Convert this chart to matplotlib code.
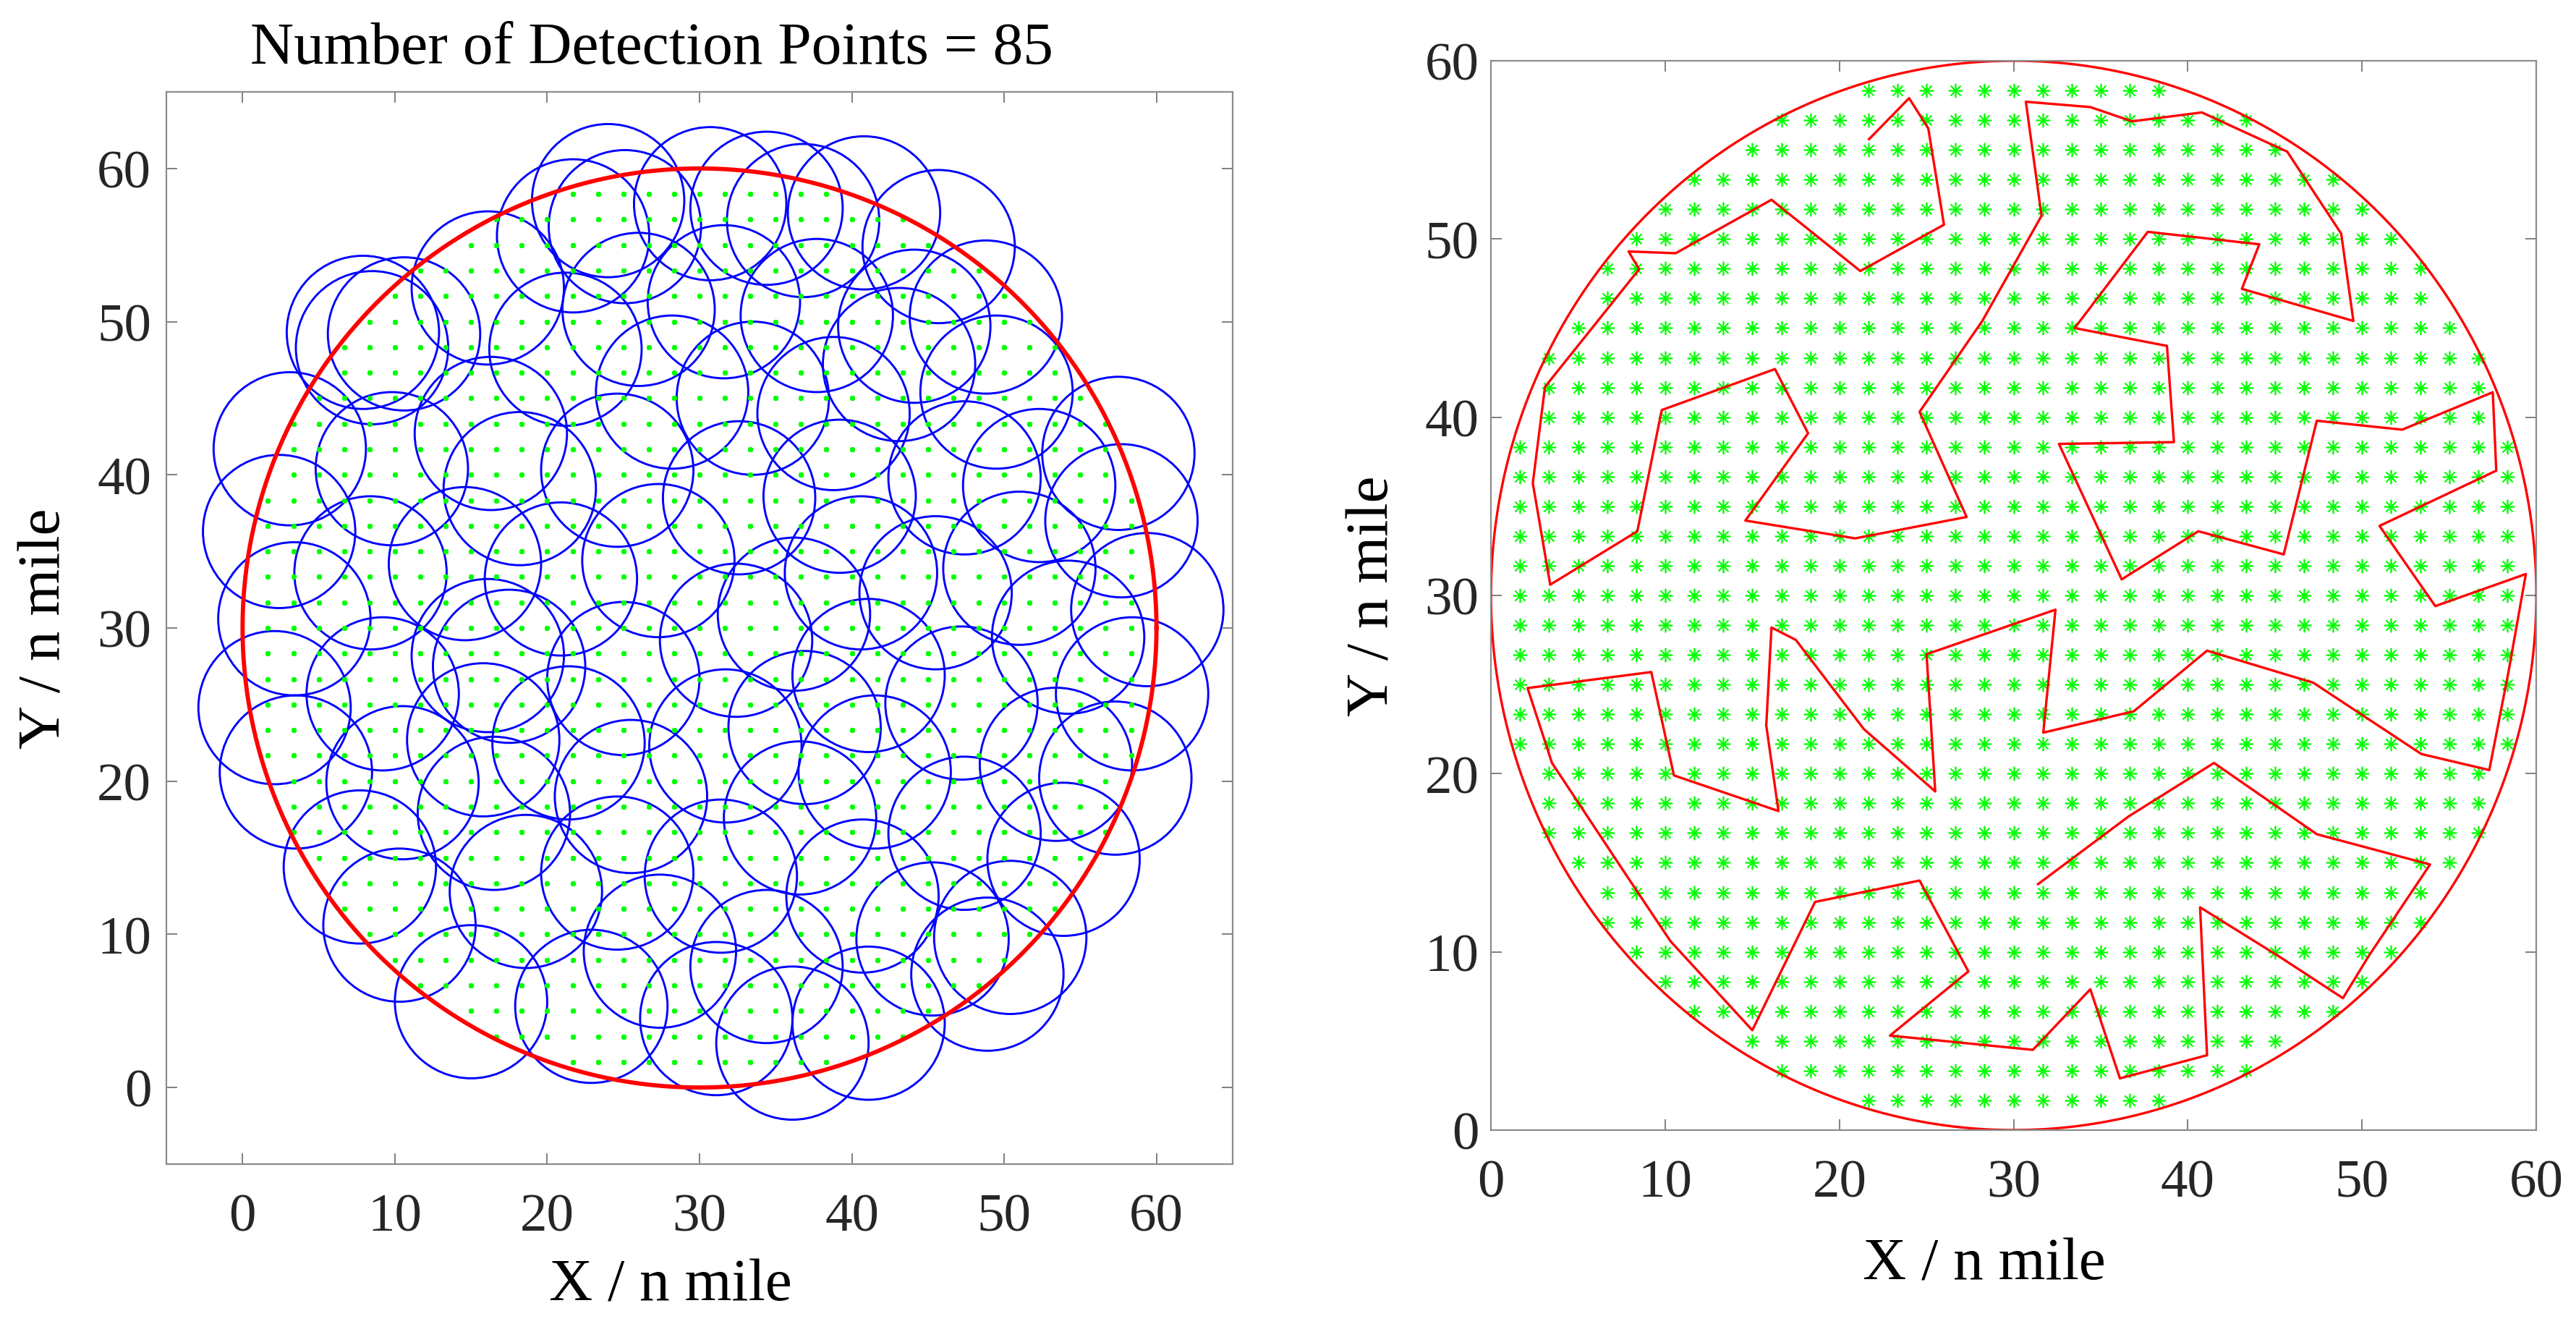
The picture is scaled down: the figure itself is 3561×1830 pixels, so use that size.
import numpy as np
import matplotlib
matplotlib.use('Agg')
import matplotlib.pyplot as plt
from matplotlib.patches import Circle

plt.rcParams['font.family'] = ['Liberation Serif', 'DejaVu Serif']

# detection points, in the order the search path visits them
pts_x = [21.7, 24.0, 25.1, 26.0, 21.2, 16.1, 10.6, 7.9, 8.5, 3.1,
         2.4, 3.4, 8.4, 9.8, 16.3, 18.2, 14.6, 20.9, 27.3, 24.6,
         28.2, 31.6, 30.7, 34.4, 36.8, 40.8, 45.7, 48.8, 49.5, 43.1,
         44.1, 37.7, 33.5, 38.8, 39.2, 32.6, 36.2, 40.6, 45.5, 47.4,
         52.3, 57.5, 57.7, 51.0, 54.2, 59.4, 58.4, 57.3, 53.4, 47.2,
         41.1, 36.9, 31.7, 32.4, 25.0, 25.5, 21.4, 17.5, 16.1, 15.8,
         16.5, 10.5, 9.2, 2.1, 3.5, 7.7, 10.3, 15.0, 18.6, 24.6,
         27.4, 22.9, 31.1, 34.4, 36.1, 41.1, 40.7, 45.3, 48.9, 50.4,
         53.9, 47.4, 41.5, 36.6, 31.4]
pts_y = [55.6, 57.9, 56.2, 50.8, 48.2, 52.2, 49.2, 49.3, 48.3, 41.7,
         36.3, 30.6, 33.6, 40.4, 42.7, 39.1, 34.2, 33.2, 34.4, 40.3,
         45.4, 51.3, 57.7, 57.4, 56.6, 57.1, 54.9, 50.3, 45.4, 47.2,
         49.7, 50.4, 45.0, 44.0, 38.6, 38.5, 30.9, 33.6, 32.3, 39.8,
         39.3, 41.4, 37.0, 33.9, 29.4, 31.2, 25.7, 20.2, 21.1, 25.1,
         26.9, 23.5, 22.3, 29.2, 26.7, 19.0, 22.5, 27.5, 28.2, 22.7,
         17.9, 19.9, 25.7, 24.8, 20.6, 14.4, 10.6, 5.6, 12.8, 14.0,
         8.9, 5.3, 4.5, 7.9, 2.9, 4.2, 12.5, 9.7, 7.4, 9.8,
         14.9, 16.6, 20.6, 17.6, 13.8]

area_cx, area_cy, area_r = 30, 30, 30
sensor_r = 5
grid_step = 5 / 3
ticks = [0, 10, 20, 30, 40, 50, 60]

g = np.arange(0, 60 + 1e-9, grid_step)
gx, gy = np.meshgrid(g, g)
inside = (gx - area_cx) ** 2 + (gy - area_cy) ** 2 < area_r ** 2
gx, gy = gx[inside], gy[inside]

t = np.linspace(0, 2 * np.pi, 400)
bx = area_cx + area_r * np.cos(t)
by = area_cy + area_r * np.sin(t)

green = '#00ff00'
star = (8, 2, 0)

fig = plt.figure(figsize=(35.61, 18.31), dpi=100)
ax1 = fig.add_axes([0.0646, 0.1207, 0.4139, 0.8094])
ax2 = fig.add_axes([0.5788, 0.1464, 0.4058, 0.8072])


def style_axes(ax, xpad, ypad):
    ax.set_xticks(ticks)
    ax.set_yticks(ticks)
    ax.tick_params(direction='in', length=11, width=1.4, colors='#7f7f7f',
                   labelcolor='#262626', labelsize=54, top=True, right=True)
    ax.tick_params(axis='x', pad=xpad)
    ax.tick_params(axis='y', pad=ypad)
    for s in ax.spines.values():
        s.set_color('#8c8c8c')
        s.set_linewidth(1.6)


# left: coverage of the detection points
ax1.plot(gx, gy, linestyle='none', marker=star, ms=5, mew=2.0, color=green)
for x, y in zip(pts_x, pts_y):
    ax1.add_patch(Circle((x, y), sensor_r, fill=False, edgecolor='#0000ff', lw=2.1))
ax1.plot(bx, by, color='#ff0000', lw=4.2)
ax1.set_xlim(-5, 65)
ax1.set_ylim(-5, 65)
style_axes(ax1, 29, 15)
ax1.set_title('Number of Detection Points = %d' % len(pts_x), fontsize=60, pad=29, x=0.455)
ax1.set_xlabel('X / n mile', fontsize=60)
ax1.set_ylabel('Y / n mile', fontsize=60)
ax1.xaxis.set_label_coords(0.473, -0.088)
ax1.yaxis.set_label_coords(-0.088, 0.5)

# right: search path through the detection points
ax2.plot(gx, gy, linestyle='none', marker=star, ms=14, mew=1.2, color=green)
ax2.plot(bx, by, color='#ff0000', lw=2.4)
ax2.plot(pts_x, pts_y, color='#ff0000', lw=2.4)
ax2.set_xlim(0, 60)
ax2.set_ylim(0, 60)
style_axes(ax2, 29, 12)
ax2.set_xlabel('X / n mile', fontsize=60)
ax2.set_ylabel('Y / n mile', fontsize=60)
ax2.xaxis.set_label_coords(0.472, -0.100)
ax2.yaxis.set_label_coords(-0.086, 0.5)

fig.savefig('out.png', dpi=100, facecolor='white')
plt.close()
